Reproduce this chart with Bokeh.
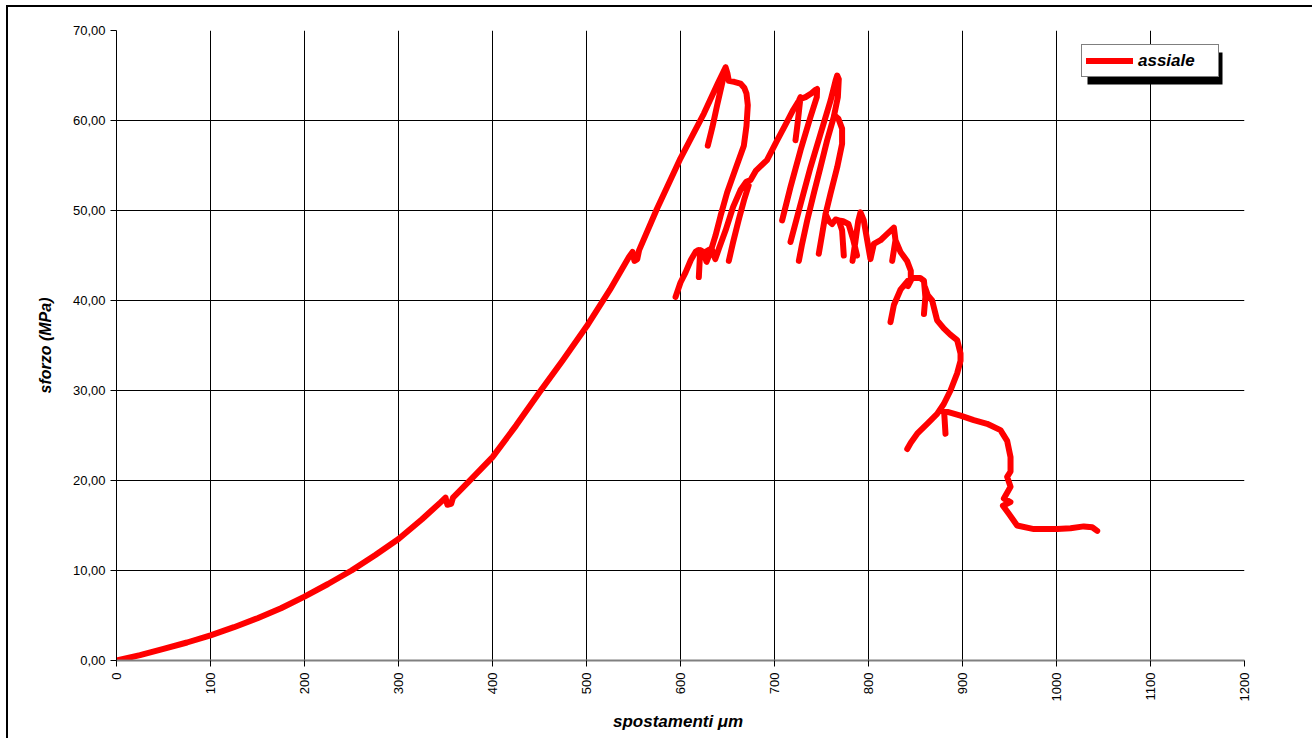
import math
from bokeh.plotting import figure
from bokeh.models import Range1d, FixedTicker, Legend, LegendItem, BoxAnnotation
from bokeh.embed import file_html
from bokeh.resources import INLINE

NAN = float("nan")

# ---- data (spostamenti in µm, sforzo in MPa), strokes ----
load_x = [0, 25, 50, 75, 100, 125, 150, 175, 200, 225, 250, 275, 300, 325, 345, 350, 352, 356, 358,
          375, 400, 425, 450, 475, 500, 525, 545, 549, 551, 554, 556, 575, 600, 625, 640, 648,
          644, 639, 634, 629]
load_y = [0, 0.6, 1.3, 2.0, 2.8, 3.7, 4.7, 5.8, 7.1, 8.5, 10.0, 11.7, 13.5, 15.7, 17.6, 18.1, 17.3, 17.4, 18.1,
          19.9, 22.6, 26.1, 29.8, 33.4, 37.1, 41.2, 44.8, 45.4, 44.4, 44.6, 45.6, 50.2, 55.8, 60.8, 64.2, 65.9,
          64.0, 61.7, 59.3, 57.2]

peak_x = [648, 650, 651.4, 657, 663.8, 668, 670.2, 671.6, 670.2, 667.4, 658.5, 649.6, 642.6, 637.2,
          631.9, 627.7, 624, 621, 619.5]
peak_y = [65.9, 65.2, 64.4, 64.3, 64.1, 63.6, 63.0, 61.7, 59.4, 57.2, 54.6, 52.0, 49.4, 47.2,
          45.4, 44.3, 45.4, 45.6, 42.6]

reload_x = [594.7, 600, 605.3, 611, 616, 619, 623, 628, 633, 637, 641, 648, 656, 664, 670, 674.5,
            680, 692, 702.8, 712, 720, 725.9, 727.7, 726.5, 724.5, 722.3]
reload_y = [40.4, 42.0, 43.1, 44.5, 45.4, 45.6, 45.0, 45.5, 45.8, 44.6, 45.8, 47.8, 50.4, 52.3, 53.2, 53.4,
            54.4, 55.6, 57.8, 59.6, 61.2, 62.2, 62.6, 61.5, 59.6, 57.8]

hump_x = [651.4, 656, 662, 668, 672.5]
hump_y = [44.4, 46.5, 49.0, 51.3, 52.8]

f2_x = [727.7, 733, 739, 743.6, 745.3, 745, 738.3, 727.7, 717, 708.1]
f2_y = [62.4, 62.6, 63.0, 63.4, 63.5, 62.6, 60.4, 56.7, 52.6, 48.9]

f3_x = [717, 727.7, 738.3, 748.9, 759.6, 764.9, 766.7, 768.4, 767.4, 763.1, 756.0, 748.9, 741.8,
        734.8, 729.4, 725.9]
f3_y = [46.5, 50.7, 54.8, 58.5, 62.2, 64.4, 65.0, 64.6, 62.6, 60.4, 57.8, 54.8, 51.9,
        48.9, 46.3, 44.4]

f4_x = [763.5, 768, 771.9, 771.9, 766.7, 759.6, 754.3, 750.7, 747.1]
f4_y = [60.6, 60.2, 59.1, 57.4, 54.8, 51.9, 49.6, 47.4, 45.2]

s1_x = [754.3, 758, 761.3, 765, 768.4, 771.9, 773.7]
s1_y = [49.6, 48.8, 48.5, 49.0, 48.9, 47.8, 45.0]

s1b_x = [768.4, 773, 778.7, 783.9, 787.8]
s1b_y = [48.9, 48.8, 48.5, 46.7, 45.0]

s2_x = [783, 786, 789, 791.5, 795, 798.6, 802.1, 805.7, 812.8, 819.9, 827, 828.7, 825.2]
s2_y = [44.4, 46.5, 48.8, 49.8, 48.9, 46.7, 44.6, 46.3, 46.7, 47.4, 48.1, 46.7, 44.4]

s3_x = [828.7, 834, 841, 845, 845, 842]
s3_y = [46.7, 45.4, 44.4, 43.3, 42.2, 41.6]

p_x = [823.4, 827, 834, 842, 848, 855, 859, 860.5, 859]
p_y = [37.6, 39.5, 41.2, 42.2, 42.5, 42.5, 42.2, 40.4, 38.5]

q_x = [860, 863, 867.7, 873, 880.1, 887, 894.3, 897.9, 897.9, 894.3, 887.2, 880.1, 873, 862.4,
       851.8, 845, 841.2]
q_y = [41.5, 40.6, 40.0, 37.8, 36.9, 36.2, 35.6, 34.1, 33.3, 31.9, 30.0, 28.5, 27.4, 26.3,
       25.2, 24.2, 23.5]

tail_x = [881.9, 880.5, 885, 897.9, 912, 926.2, 940.4, 947.5, 951.1, 951.1, 947.5, 951.1, 944, 951,
          943, 949.3, 958.1, 975.9, 1000.7, 1015, 1029, 1038, 1043.3]
tail_y = [25.2, 27.6, 27.6, 27.2, 26.7, 26.3, 25.6, 24.4, 22.6, 21.0, 20.4, 19.3, 18.0, 17.6,
          17.2, 16.3, 15.0, 14.6, 14.6, 14.7, 14.9, 14.8, 14.4]

x_ticks = [0, 100, 200, 300, 400, 500, 600, 700, 800, 900, 1000, 1100, 1200]
y_ticks = [0, 10, 20, 30, 40, 50, 60, 70]
y_tick_labels = ["0,00", "10,00", "20,00", "30,00", "40,00", "50,00", "60,00", "70,00"]

series_label = "assiale"
x_title = "spostamenti  \u03bcm"
y_title = "sforzo (MPa)"

strokes = [(load_x, load_y), (peak_x, peak_y), (reload_x, reload_y), (hump_x, hump_y),
           (f2_x, f2_y), (f3_x, f3_y), (f4_x, f4_y), (s1_x, s1_y), (s1b_x, s1b_y),
           (s2_x, s2_y), (s3_x, s3_y), (p_x, p_y), (q_x, q_y), (tail_x, tail_y)]
xs, ys = [], []
for sx, sy in strokes:
    if xs:
        xs.append(NAN)
        ys.append(NAN)
    xs.extend(sx)
    ys.extend(sy)

FONT = "Liberation Sans"

p = figure(width=1306, height=733, output_backend="svg", toolbar_location=None,
           x_range=Range1d(0, 1200), y_range=Range1d(0, 70),
           min_border_left=108, min_border_right=70, min_border_top=23, min_border_bottom=80)
p.styles = {"border-top": "2px solid black", "border-left": "2px solid black",
            "margin-left": "6px", "margin-top": "5px"}
p.outline_line_color = None
p.background_fill_color = "white"
p.border_fill_color = "white"

p.xaxis.ticker = FixedTicker(ticks=x_ticks)
p.yaxis.ticker = FixedTicker(ticks=y_ticks)
p.yaxis.major_label_overrides = {t: l for t, l in zip(y_ticks, y_tick_labels)}

for g in (p.xgrid, p.ygrid):
    g.grid_line_color = "black"
    g.grid_line_width = 1
p.xgrid.ticker = FixedTicker(ticks=x_ticks)
p.ygrid.ticker = FixedTicker(ticks=y_ticks)

for ax in (p.xaxis, p.yaxis):
    ax.major_label_text_font = FONT
    ax.major_label_text_font_size = "13px"
    ax.major_label_text_color = "black"
    ax.major_tick_in = 0
    ax.major_tick_out = 6
    ax.major_tick_line_color = "black"
    ax.minor_tick_line_color = None
    ax.axis_label_text_font = FONT
    ax.axis_label_text_font_style = "bold italic"
    ax.axis_label_text_color = "black"

p.xaxis.axis_line_color = "#808080"
p.xaxis.axis_line_width = 2
p.yaxis.axis_line_color = "black"
p.xaxis.major_label_orientation = math.pi / 2
p.xaxis.major_label_standoff = 6
p.yaxis.major_label_standoff = 5
p.xaxis.axis_label = x_title
p.yaxis.axis_label = y_title
p.xaxis.axis_label_text_font_size = "17px"
p.yaxis.axis_label_text_font_size = "16px"
p.xaxis.axis_label_standoff = 8
p.yaxis.axis_label_standoff = 16

r = p.line(xs, ys, line_color="#ff0000", line_width=6, line_cap="round", line_join="round")

# legend shadow
p.add_layout(BoxAnnotation(left=1077, right=1212, top=43, bottom=75,
                           left_units="canvas", right_units="canvas",
                           top_units="canvas", bottom_units="canvas",
                           fill_color="black", fill_alpha=1, line_color=None))

legend = Legend(items=[LegendItem(label=series_label, renderers=[r])],
                location=(965, 583), border_line_color="black", border_line_width=1,
                background_fill_color="white", background_fill_alpha=1,
                label_text_font=FONT, label_text_font_style="bold italic",
                label_text_color="black",
                label_text_font_size="17px", glyph_width=47, glyph_height=23,
                label_height=23, label_width=76, padding=4, margin=0, label_standoff=5,
                spacing=0)
p.add_layout(legend, "center")

open("out.html", "w").write(file_html(p, INLINE))
